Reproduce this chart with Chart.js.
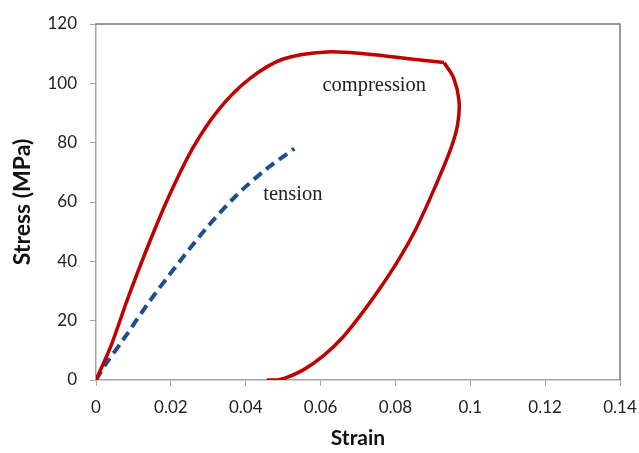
<!DOCTYPE html>
<html>
<head>
<meta charset="utf-8">
<script src="https://cdn.jsdelivr.net/npm/chart.js@4.4.1/dist/chart.umd.min.js"></script>
<style>
	html, body { margin: 0; padding: 0; background: #fff; }
	#wrap { width: 639px; height: 453px; position: relative; }
</style>
</head>
<body>
<div id="wrap"><canvas id="canvas"></canvas></div>
<script>
// compression, loading branch (up to the corner)
var compLoadStrain = [0, 0.0040, 0.0085, 0.0140, 0.0197, 0.0260, 0.0330, 0.0410, 0.0500, 0.0617, 0.0730, 0.0841, 0.0930];
var compLoadStress = [0, 11.5, 27.5, 45.5, 62.5, 78.5, 91.5, 101.5, 108.2, 110.6, 109.8, 108.2, 107];
// compression, after the corner back down to zero
var compUnloadStrain = [0.0930, 0.0955, 0.0970, 0.0966, 0.0948, 0.0904, 0.0855, 0.0805, 0.0762, 0.0716, 0.0660, 0.0608, 0.0555, 0.0505, 0.0483, 0.0456];
var compUnloadStress = [107, 102, 94, 86, 78, 64.5, 51, 39.8, 31.5, 23.4, 14.5, 8.2, 3.5, 0.6, 0, 0];
// tension
var tensStrain = [0, 0.0027, 0.0071, 0.0143, 0.0219, 0.0295, 0.0375, 0.0452, 0.0530];
var tensStress = [0, 5.5, 13.3, 26.5, 39.2, 51.2, 62.2, 70.8, 78];

var yTicks = [0, 20, 40, 60, 80, 100, 120];
var xTicks = [0, 0.02, 0.04, 0.06, 0.08, 0.1, 0.12, 0.14];

// text labels inside the plot: [text, strain, stress]
var notes = [["compression", 0.0605, 97.4], ["tension", 0.0447, 60.8]];

function toPoints(xs, ys){
	var pts = new Array();
	for(var i = 0; i < xs.length; i++){
		pts.push({x: xs[i], y: ys[i]});
	}
	return pts;
}

var red = "#c00000";
var blue = "#1f4e8c";

var frame = {
	id: "frame",
	afterDraw: function(chart){
		var a = chart.chartArea;
		var c = chart.ctx;
		c.save();
		c.strokeStyle = "#7a7a7a";
		c.lineWidth = 1.5;
		c.beginPath();
		c.moveTo(a.left, a.top);
		c.lineTo(a.right, a.top);
		c.lineTo(a.right, a.bottom);
		c.stroke();
		c.font = "20.5px 'Liberation Serif'";
		c.fillStyle = "#222";
		c.textBaseline = "alphabetic";
		c.textAlign = "left";
		for(var i = 0; i < notes.length; i++){
			var px = chart.scales.x.getPixelForValue(notes[i][1]);
			var py = chart.scales.y.getPixelForValue(notes[i][2]);
			c.fillText(notes[i][0], px, py);
		}
		c.restore();
	}
};

var lineOpts = {showLine: true, pointRadius: 0, fill: false, tension: 0.3};

var ctx = document.getElementById("canvas").getContext("2d");
var chart = new Chart(ctx, {
	type: "scatter",
	data: {
		datasets: [
			Object.assign({data: toPoints(compLoadStrain, compLoadStress), borderColor: red, borderWidth: 3.5}, lineOpts),
			Object.assign({data: toPoints(compUnloadStrain, compUnloadStress), borderColor: red, borderWidth: 3.5}, lineOpts),
			Object.assign({data: toPoints(tensStrain, tensStress), borderColor: blue, borderWidth: 4, borderDash: [10, 6]}, lineOpts)
		]
	},
	options: {
		responsive: true,
		maintainAspectRatio: false,
		animation: false,
		layout: {padding: {left: 0, right: 19, top: 24, bottom: 0}},
		plugins: {legend: {display: false}, tooltip: {enabled: false}},
		scales: {
			x: {
				type: "linear",
				min: 0, max: 0.14,
				afterFit: function(s){ s.height = 73; s.paddingLeft = 0; s.paddingRight = 0; },
				afterBuildTicks: function(s){ s.ticks = xTicks.map(function(v){ return {value: v}; }); },
				ticks: {
					color: "#222",
					padding: 11,
					font: {family: "Lato", size: 17},
					callback: function(v){ return String(Number(v.toFixed(2))); }
				},
				grid: {display: true, drawOnChartArea: false, drawTicks: true, tickLength: 6, color: "#a6a6a6"},
				border: {display: true, color: "#a6a6a6", width: 1.5},
				title: {display: true, text: "Strain", color: "#111", padding: {bottom: 2}, font: {family: "Lato", size: 21, weight: "bold"}}
			},
			y: {
				type: "linear",
				min: 0, max: 120,
				afterFit: function(s){ s.width = 96; s.paddingTop = 0; s.paddingBottom = 0; },
				afterBuildTicks: function(s){ s.ticks = yTicks.map(function(v){ return {value: v}; }); },
				ticks: {
					color: "#222",
					padding: 13,
					font: {family: "Lato", size: 17}
				},
				grid: {display: true, drawOnChartArea: false, drawTicks: true, tickLength: 6, color: "#a6a6a6"},
				border: {display: true, color: "#a6a6a6", width: 1.5},
				title: {display: true, text: "Stress (MPa)", color: "#111", padding: {top: 9}, font: {family: "Lato", size: 23, weight: "bold"}}
			}
		}
	},
	plugins: [frame]
});
</script>
</body>
</html>
